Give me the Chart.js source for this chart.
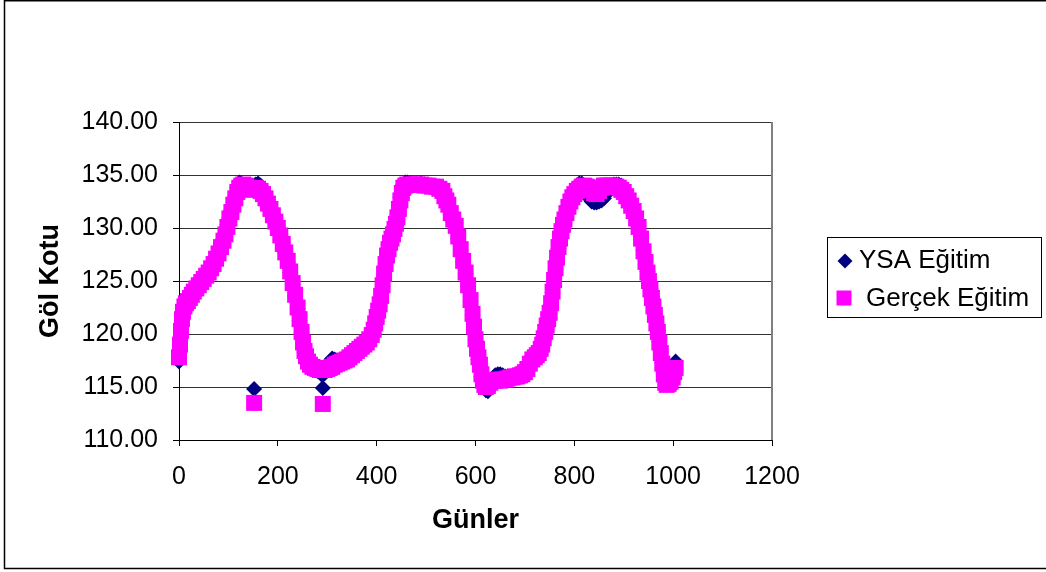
<!DOCTYPE html>
<html lang="tr">
<head>
<meta charset="utf-8">
<title>Göl Kotu</title>
<script src="https://cdn.jsdelivr.net/npm/chart.js@4.4.1/dist/chart.umd.min.js"></script>
<style>
  html, body { margin: 0; padding: 0; background: #fff; }
  canvas { display: block; }
</style>
</head>
<body>
<canvas id="golKotuChart" width="1046" height="572"></canvas>
<script>
// gün numaraları (iki seri için ortak)
const gunler = [
  0, 2, 4, 6, 8, 11, 14, 18, 22, 26, 30, 35, 40, 45, 50, 55, 60, 65, 70, 75,
  80, 85, 90, 94, 98, 102, 106, 110, 114, 118, 122, 126, 130, 135, 140, 145, 150, 155, 160, 165,
  170, 175, 180, 185, 190, 195, 200, 205, 210, 215, 220, 225, 230, 235, 240, 244, 248, 251, 254, 257,
  261, 265, 270, 275, 280, 285, 290, 295, 300, 305, 310, 315, 320, 325, 330, 335, 340, 345, 350, 355,
  360, 365, 370, 375, 380, 385, 390, 394, 397, 400, 403, 406, 409, 412, 415, 418, 421, 424, 427, 430,
  433, 436, 439, 442, 445, 448, 451, 454, 458, 462, 468, 475, 482, 490, 497, 505, 512, 520, 527, 533,
  537, 541, 545, 550, 555, 560, 565, 570, 575, 580, 585, 590, 594, 597, 600, 603, 606, 609, 612, 615,
  618, 621, 625, 630, 635, 640, 645, 650, 655, 660, 665, 670, 675, 680, 685, 690, 695, 700, 705, 710,
  715, 720, 724, 728, 732, 735, 738, 741, 744, 747, 750, 753, 756, 759, 762, 765, 768, 771, 774, 777,
  780, 784, 788, 792, 796, 800, 805, 810, 815, 820, 825, 830, 835, 840, 845, 850, 855, 860, 865, 870,
  875, 880, 885, 890, 895, 900, 905, 910, 915, 920, 925, 930, 935, 940, 944, 948, 951, 954, 957, 960,
  963, 966, 969, 972, 975, 978, 981, 984, 987, 991, 995, 999, 1002, 1005
];

// YSA çıktısı (m)
const ysaEgitim = [
  117.4, 118.8, 120.1, 121.3, 122.0, 122.5, 122.9, 123.2, 123.5, 123.6, 123.9, 124.2, 124.7, 125.0, 125.3, 125.5, 125.7, 126.1, 126.5, 127.0,
  127.8, 128.4, 129.0, 129.6, 130.3, 131.0, 131.7, 132.4, 133.1, 133.8, 134.3, 134.2, 134.0, 133.9, 133.8, 133.7, 133.8, 134.1, 134.2, 134.0,
  133.6, 133.1, 132.5, 131.9, 131.3, 130.7, 130.1, 129.4, 128.6, 127.7, 126.8, 125.8, 124.7, 123.6, 122.4, 121.3, 120.1, 119.1, 118.3, 117.8,
  117.3, 117.0, 116.8, 116.6, 116.5, 116.4, 116.1, 116.3, 116.9, 117.4, 117.7, 117.6, 117.5, 117.5, 117.6, 117.6, 117.5, 117.5, 117.7, 117.9,
  118.1, 118.3, 118.5, 118.7, 118.9, 119.2, 119.5, 120.0, 120.6, 121.2, 121.9, 122.6, 123.5, 124.5, 125.6, 126.6, 127.5, 128.1, 128.8, 129.3,
  129.7, 130.2, 130.7, 131.3, 132.1, 132.9, 133.6, 134.1, 134.3, 134.3, 134.2, 134.1, 134.1, 134.2, 134.1, 134.0, 133.8, 133.7, 133.6, 133.4,
  132.9, 132.5, 132.0, 131.3, 130.6, 130.0, 129.0, 127.9, 126.8, 125.7, 124.5, 123.1, 121.8, 120.6, 119.4, 118.5, 117.6, 116.9, 116.0, 115.3,
  114.9, 114.7, 114.6, 115.2, 115.8, 116.1, 116.2, 116.2, 116.1, 116.0, 116.0, 115.9, 115.9, 116.0, 116.1, 116.2, 116.3, 116.5, 116.8, 117.2,
  117.5, 117.6, 117.8, 118.0, 118.4, 118.8, 119.4, 120.0, 120.6, 121.2, 121.9, 122.8, 123.9, 125.0, 126.1, 127.1, 128.1, 128.9, 129.6, 130.2,
  130.8, 131.5, 132.1, 132.7, 133.2, 133.6, 134.0, 134.2, 134.2, 134.0, 133.4, 132.8, 132.5, 132.4, 132.4, 132.5, 132.6, 132.8, 133.2, 133.7,
  134.0, 134.1, 134.1, 134.1, 134.0, 133.7, 133.3, 132.8, 132.3, 131.7, 131.0, 130.2, 129.1, 127.9, 126.9, 125.9, 125.1, 124.3, 123.5, 122.7,
  121.9, 121.1, 120.3, 119.3, 118.3, 117.3, 116.3, 115.5, 115.3, 115.4, 115.6, 116.0, 116.6, 117.4
];

// gözlenen göl kotu (m)
const gercekEgitim = [
  117.8, 119.0, 120.3, 121.4, 122.1, 122.6, 122.9, 123.1, 123.4, 123.7, 124.0, 124.3, 124.6, 124.9, 125.2, 125.5, 125.8, 126.2, 126.6, 127.1,
  127.6, 128.2, 128.8, 129.4, 130.1, 130.9, 131.5, 132.2, 132.8, 133.4, 133.8, 134.0, 134.1, 134.0, 133.8, 133.6, 133.7, 133.8, 133.7, 133.5,
  133.2, 132.8, 132.3, 131.8, 131.2, 130.6, 130.0, 129.3, 128.5, 127.7, 126.9, 125.9, 124.8, 123.7, 122.5, 121.4, 120.2, 119.2, 118.4, 117.9,
  117.4, 117.1, 116.9, 116.8, 116.7, 116.6, 116.6, 116.6, 116.7, 116.8, 116.9, 117.1, 117.2, 117.3, 117.4, 117.5, 117.6, 117.8, 118.0, 118.2,
  118.4, 118.6, 118.8, 119.0, 119.2, 119.5, 119.9, 120.4, 121.0, 121.6, 122.2, 122.8, 123.6, 124.6, 125.7, 126.6, 127.4, 128.0, 128.6, 129.0,
  129.4, 129.9, 130.4, 131.0, 131.8, 132.6, 133.3, 133.8, 134.0, 134.1, 134.1, 134.1, 134.1, 134.1, 134.0, 134.0, 133.9, 133.9, 133.7, 133.5,
  133.0, 132.6, 132.2, 131.4, 130.8, 130.2, 129.2, 128.0, 126.9, 125.8, 124.6, 123.2, 121.9, 120.7, 119.5, 118.6, 117.8, 117.1, 116.2, 115.6,
  115.2, 115.0, 115.1, 115.4, 115.6, 115.6, 115.7, 115.6, 115.7, 115.7, 115.8, 115.9, 115.9, 116.0, 116.0, 116.1, 116.2, 116.4, 116.7, 117.2,
  117.6, 117.8, 118.0, 118.2, 118.6, 119.0, 119.6, 120.2, 120.8, 121.4, 122.0, 122.9, 124.0, 125.1, 126.2, 127.2, 128.2, 129.0, 129.7, 130.3,
  130.8, 131.4, 132.0, 132.5, 132.9, 133.2, 133.5, 133.7, 133.9, 134.0, 133.9, 133.8, 133.6, 133.3, 133.2, 133.5, 133.8, 134.0, 134.0, 134.0,
  134.0, 133.9, 133.9, 133.8, 133.6, 133.4, 133.0, 132.6, 132.1, 131.6, 130.9, 130.1, 129.0, 127.8, 126.8, 125.8, 125.0, 124.2, 123.4, 122.6,
  121.8, 121.0, 120.2, 119.2, 118.2, 117.2, 116.2, 115.4, 115.2, 115.3, 115.5, 115.9, 116.4, 116.8
];

// eğrinin dışında kalan tekil ölçümler [gün, kot]
const ysaAyrik = [[152, 114.8], [291, 114.9]];
const gercekAyrik = [[152, 113.5], [291, 113.4]];

const seriAdlari = ['YSA Eğitim', 'Gerçek Eğitim'];
const renkler = ['#000080', '#FF00FF'];

function noktalar(degerler, ayrik) {
  const pts = gunler.map((g, i) => ({ x: g, y: degerler[i] }));
  ayrik.forEach(([g, v]) => pts.push({ x: g, y: v }));
  return pts;
}

Chart.defaults.font.family = '"Liberation Sans", Arial, sans-serif';
Chart.defaults.color = '#000';

// dış çerçeve, çizim alanının sağ kenarı ve açıklama kutusu
const cerceve = {
  id: 'cerceve',
  beforeDraw(chart) {
    const ctx = chart.ctx;
    ctx.save();
    ctx.fillStyle = '#fff';
    ctx.fillRect(0, 0, chart.width, chart.height);
    ctx.strokeStyle = '#000';
    ctx.lineWidth = 1.5;
    ctx.beginPath();
    ctx.moveTo(chart.width + 5, 0.75);
    ctx.lineTo(4.5, 0.75);
    ctx.lineTo(4.5, 568.5);
    ctx.lineTo(chart.width + 5, 568.5);
    ctx.stroke();
    ctx.restore();
  },
  beforeDatasetsDraw(chart) {
    const { ctx, chartArea: a } = chart;
    ctx.save();
    ctx.strokeStyle = '#808080';
    ctx.lineWidth = 2;
    ctx.beginPath();
    ctx.moveTo(a.right, a.top);
    ctx.lineTo(a.right, a.bottom);
    ctx.stroke();
    ctx.restore();
  },
  afterDraw(chart) {
    const ctx = chart.ctx;
    ctx.save();
    ctx.strokeStyle = '#000';
    ctx.lineWidth = 1;
    ctx.strokeRect(827.5, 237.5, 214, 80);

    // karo
    ctx.fillStyle = renkler[0];
    ctx.beginPath();
    ctx.moveTo(845, 253.5);
    ctx.lineTo(852.5, 261);
    ctx.lineTo(845, 268.5);
    ctx.lineTo(837.5, 261);
    ctx.closePath();
    ctx.fill();

    // kare
    ctx.fillStyle = renkler[1];
    ctx.fillRect(836.5, 290.5, 15, 15);

    ctx.fillStyle = '#000';
    ctx.font = '26px "Liberation Sans", Arial, sans-serif';
    ctx.textBaseline = 'alphabetic';
    ctx.fillText(seriAdlari[0], 859, 268);
    ctx.fillText(seriAdlari[1], 866, 306);
    ctx.restore();
  }
};

new Chart(document.getElementById('golKotuChart'), {
  type: 'scatter',
  data: {
    datasets: [
      {
        label: seriAdlari[0],
        data: noktalar(ysaEgitim, ysaAyrik),
        pointStyle: 'rectRot',
        pointRadius: 8,
        pointBorderWidth: 0,
        backgroundColor: renkler[0],
        borderColor: renkler[0],
        clip: false,
        order: 1
      },
      {
        label: seriAdlari[1],
        data: noktalar(gercekEgitim, gercekAyrik),
        pointStyle: 'rect',
        pointRadius: 11.3,
        pointBorderWidth: 0,
        backgroundColor: renkler[1],
        borderColor: renkler[1],
        clip: false,
        order: 0
      }
    ]
  },
  options: {
    responsive: false,
    animation: false,
    events: [],
    layout: { padding: { top: 122, right: 274, bottom: 0, left: 0 } },
    plugins: {
      legend: { display: false },
      tooltip: { enabled: false }
    },
    scales: {
      x: {
        type: 'linear',
        min: 0,
        max: 1200,
        afterFit: (s) => { s.height = 132; },
        ticks: { stepSize: 200, padding: 16, font: { size: 25 }, callback: (v) => String(v) },
        grid: { drawOnChartArea: false, tickLength: 6, tickColor: '#000' },
        border: { color: '#000', width: 1 },
        title: {
          display: true,
          text: 'Günler',
          font: { size: 27, weight: 'bold' },
          padding: { top: 0, bottom: 35 }
        }
      },
      y: {
        min: 110,
        max: 140,
        afterFit: (s) => { s.width = 179; },
        ticks: {
          stepSize: 5,
          padding: 15,
          font: { size: 25 },
          callback: (v) => v.toFixed(2)
        },
        grid: { color: '#333', lineWidth: 1, tickLength: 6, tickColor: '#000' },
        border: { color: '#000', width: 1 },
        title: {
          display: true,
          text: 'Göl Kotu',
          font: { size: 27, weight: 'bold' },
          padding: { top: 34, bottom: 0 }
        }
      }
    }
  },
  plugins: [cerceve]
});
</script>
</body>
</html>
